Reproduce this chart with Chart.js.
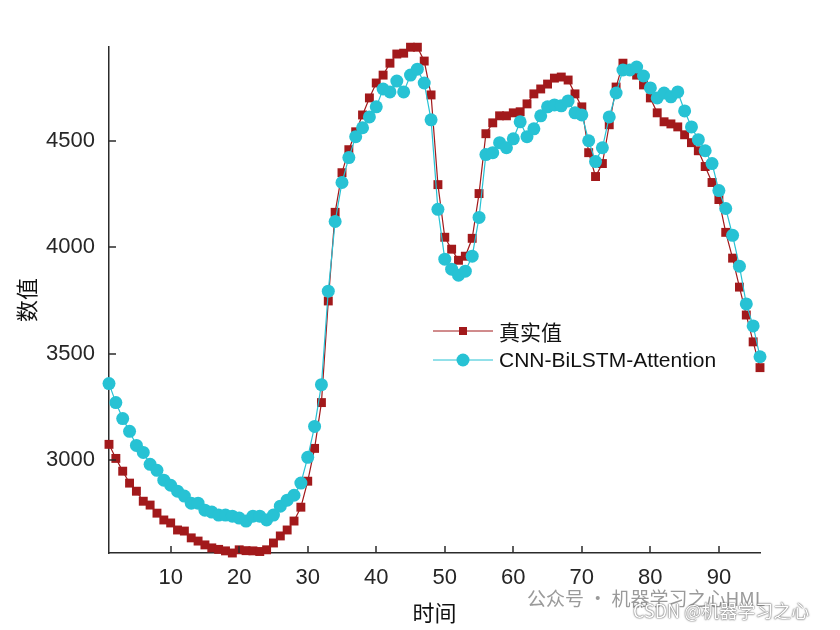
<!DOCTYPE html>
<html>
<head>
<meta charset="utf-8">
<script src="https://cdn.jsdelivr.net/npm/chart.js@4.4.1/dist/chart.umd.min.js"></script>
<style>
  body { margin: 0; background: #fff; }
  #wrap { position: relative; width: 840px; height: 630px; }
  .wm1 { position: absolute; left: 527px; top: 584px; font: 19px "Noto Sans CJK SC", sans-serif; color: #9a9a9a; }
  .wm2 { position: absolute; left: 633px; top: 597px; font: 18px "Noto Sans CJK SC", sans-serif; color: #fff;
         text-shadow: 0 0 2px #555, 0 0 1px #555; }
</style>
</head>
<body>
<div id="wrap">
  <canvas id="chart" width="840" height="630"></canvas>
  <div class="wm1">公众号 · 机器学习之心HML</div>
  <div class="wm2">CSDN @机器学习之心</div>
</div>
<script>
// valeurs (pas de temps 1..96)
const realValues = [
  3075, 3009, 2949, 2893, 2855, 2808, 2790, 2752, 2720, 2706,
  2673, 2668, 2636, 2621, 2603, 2589, 2582, 2575, 2565, 2580,
  2576, 2575, 2572, 2580, 2612, 2645, 2673, 2715, 2780, 2902,
  3056, 3271, 3748, 4164, 4350, 4458, 4542, 4621, 4701, 4771,
  4808, 4864, 4907, 4911, 4939, 4939, 4874, 4715, 4294, 4047,
  3991, 3939, 3958, 4042, 4252, 4533, 4584, 4617, 4617, 4631,
  4636, 4673, 4720, 4743, 4766, 4794, 4799, 4785, 4720, 4659,
  4444, 4332, 4393, 4575, 4752, 4864, 4832, 4808, 4762, 4701,
  4631, 4589, 4579, 4565, 4528, 4491, 4453, 4379, 4304, 4224,
  4070, 3949, 3813, 3682, 3556, 3435
];
const predValues = [
  3360, 3271, 3196, 3136, 3070, 3037, 2981, 2953, 2907, 2883,
  2855, 2832, 2799, 2799, 2766, 2757, 2743, 2743, 2738, 2729,
  2715, 2738, 2738, 2720, 2743, 2785, 2813, 2836, 2893, 3014,
  3159, 3355, 3794, 4121, 4304, 4421, 4519, 4561, 4612, 4659,
  4743, 4729, 4780, 4729, 4808, 4836, 4771, 4598, 4178, 3944,
  3897, 3869, 3888, 3958, 4140, 4435, 4444, 4491, 4467, 4509,
  4589, 4519, 4556, 4617, 4659, 4668, 4664, 4687, 4631, 4621,
  4500, 4402, 4467, 4612, 4724, 4832, 4832, 4846, 4804, 4748,
  4701, 4724, 4706, 4729, 4640, 4565, 4505, 4453, 4393, 4266,
  4182, 4056, 3911, 3734, 3631, 3486
];
const xTicks = [10, 20, 30, 40, 50, 60, 70, 80, 90];
const yTicks = [3000, 3500, 4000, 4500];
const seriesNames = ['真实值', 'CNN-BiLSTM-Attention'];

const rouge = '#A2191B';
const cyan = '#27C2D4';
const axeCouleur = '#2b2b2b';

// ticks vers l'intérieur + légende dans la zone du graphique
const decorPlugin = {
  id: 'decor',
  afterDraw(chart) {
    const ctx = chart.ctx;
    const area = chart.chartArea;
    const xs = chart.scales.x, ys = chart.scales.y;
    ctx.save();
    ctx.strokeStyle = axeCouleur;
    ctx.lineWidth = 1.5;
    ctx.beginPath();
    yTicks.forEach(v => {
      const p = Math.round(ys.getPixelForValue(v));
      ctx.moveTo(area.left, p);
      ctx.lineTo(area.left + 7, p);
    });
    xTicks.forEach(v => {
      const p = Math.round(xs.getPixelForValue(v));
      ctx.moveTo(p, area.bottom);
      ctx.lineTo(p, area.bottom - 7);
    });
    ctx.stroke();

    // légende
    const lx = area.left + 324, ly1 = 331, ly2 = 360;
    ctx.lineWidth = 1;
    ctx.strokeStyle = rouge;
    ctx.beginPath(); ctx.moveTo(lx, ly1); ctx.lineTo(lx + 60, ly1); ctx.stroke();
    ctx.fillStyle = rouge;
    ctx.fillRect(lx + 26, ly1 - 4, 8, 8);
    ctx.strokeStyle = cyan;
    ctx.beginPath(); ctx.moveTo(lx, ly2); ctx.lineTo(lx + 60, ly2); ctx.stroke();
    ctx.fillStyle = cyan;
    ctx.beginPath(); ctx.arc(lx + 30, ly2, 6.5, 0, Math.PI * 2); ctx.fill();
    ctx.fillStyle = '#111';
    ctx.textBaseline = 'middle';
    ctx.font = '21px "Noto Sans CJK SC", sans-serif';
    ctx.fillText(seriesNames[0], lx + 66, ly1 + 1);
    ctx.font = '21px "Liberation Sans", Arial, sans-serif';
    ctx.fillText(seriesNames[1], lx + 66, ly2 + 1);
    ctx.restore();
  }
};

const ctx = document.getElementById('chart').getContext('2d');
const chart = new Chart(ctx, {
  type: 'line',
  data: {
    datasets: [{
      label: seriesNames[0],
      data: realValues.map((v, i) => ({ x: i + 1, y: v })),
      borderColor: rouge,
      backgroundColor: rouge,
      borderWidth: 1.2,
      pointStyle: 'rect',
      pointRadius: 6.3,
      pointBorderWidth: 0,
      clip: false,
      order: 2
    }, {
      label: seriesNames[1],
      data: predValues.map((v, i) => ({ x: i + 1, y: v })),
      borderColor: cyan,
      backgroundColor: cyan,
      borderWidth: 1.2,
      pointStyle: 'circle',
      pointRadius: 6.5,
      pointBorderWidth: 0,
      clip: false,
      order: 1
    }]
  },
  options: {
    responsive: false,
    animation: false,
    layout: { padding: { left: 0, right: 80, top: 47, bottom: 0 } },
    plugins: {
      legend: { display: false },
      tooltip: { enabled: false }
    },
    scales: {
      x: {
        type: 'linear',
        min: 1,
        max: 96,
        afterBuildTicks: s => { s.ticks = xTicks.map(v => ({ value: v })); },
        afterFit: s => { s.height = 77; },
        grid: { display: false, drawTicks: false },
        border: { display: true, color: axeCouleur, width: 1.5 },
        ticks: { color: '#262626', padding: 12, maxRotation: 0,
                 callback: v => String(v),
                 font: { family: '"Liberation Sans", Arial, sans-serif', size: 22 } },
        title: { display: true, text: '时间', color: '#111', padding: { bottom: 4 },
                 font: { family: '"Noto Sans CJK SC", sans-serif', size: 22 } }
      },
      y: {
        min: 2565,
        max: 4940,
        afterBuildTicks: s => { s.ticks = yTicks.map(v => ({ value: v })); },
        afterFit: s => { s.width = 109; },
        grid: { display: false, drawTicks: false },
        border: { display: true, color: axeCouleur, width: 1.5 },
        ticks: { color: '#262626', padding: 14,
                 callback: v => String(v),
                 font: { family: '"Liberation Sans", Arial, sans-serif', size: 22 } },
        title: { display: true, text: '数值', color: '#111', padding: { top: 13 },
                 font: { family: '"Noto Sans CJK SC", sans-serif', size: 22 } }
      }
    }
  },
  plugins: [decorPlugin]
});
</script>
</body>
</html>
